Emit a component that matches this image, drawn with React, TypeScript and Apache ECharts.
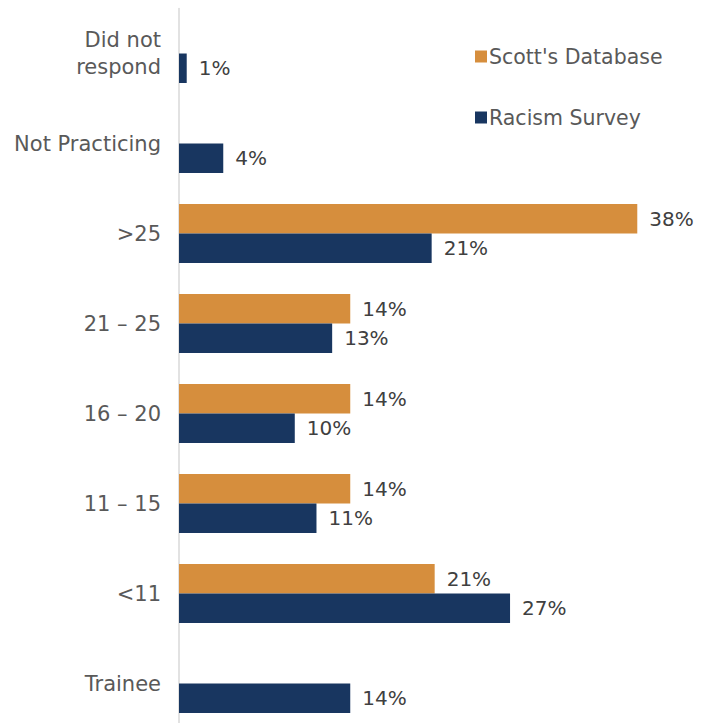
import React, { useEffect, useRef } from "react";
import * as echarts from "echarts";

const categories = ["Did not\nrespond", "Not Practicing", ">25", "21 – 25", "16 – 20", "11 – 15", "<11", "Trainee"];
const scottsDatabase = [null, null, 38.0, 14.2, 14.2, 14.2, 21.2, null];
const racismSurvey = [0.64, 3.67, 20.95, 12.7, 9.6, 11.4, 27.45, 14.2];
const seriesNames = ["Scott's Database", "Racism Survey"];

const FONT = "DejaVu Sans";

export default function App() {
  const ref = useRef<HTMLDivElement>(null);
  useEffect(() => {
    if (!ref.current) return;
    const chart = echarts.init(ref.current, null, { renderer: "svg" });
    const label = {
      show: true,
      position: "right",
      distance: 12,
      color: "#404040",
      fontFamily: FONT,
      fontSize: 20,
      formatter: (p: any) => Math.round(p.value) + "%",
    };
    chart.setOption({
      animation: false,
      textStyle: { fontFamily: FONT },
      legend: {
        orient: "vertical",
        left: 470,
        top: 41,
        itemWidth: 12,
        itemHeight: 12,
        itemGap: 40,
        icon: "rect",
        textStyle: { fontFamily: FONT, fontSize: 20.5, color: "#595959", padding: [0, 0, 0, -3] },
        data: seriesNames,
      },
      grid: { left: 179, top: 8.5, width: 482.4, height: 720, containLabel: false },
      xAxis: {
        type: "value",
        min: 0,
        max: 40,
        show: false,
        splitLine: { show: false },
      },
      yAxis: {
        type: "category",
        inverse: true,
        data: categories,
        axisTick: { show: false },
        axisLine: { show: true, lineStyle: { color: "#d9d9d9", width: 1.5 } },
        axisLabel: {
          margin: 18,
          color: "#595959",
          fontFamily: FONT,
          fontSize: 21,
          lineHeight: 27,
          align: "right",
        },
      },
      series: [
        {
          name: seriesNames[0],
          type: "bar",
          data: scottsDatabase,
          barWidth: 29.5,
          barGap: "0%",
          barCategoryGap: "33%",
          itemStyle: { color: "#D68E3D" },
          label,
        },
        {
          name: seriesNames[1],
          type: "bar",
          data: racismSurvey,
          barWidth: 29.5,
          barGap: "0%",
          itemStyle: { color: "#183660" },
          label,
        },
      ],
    });
    return () => chart.dispose();
  }, []);
  return (
    <div style={{ position: "fixed", left: 0, top: 0, width: 702, height: 723, overflow: "hidden", background: "#fff" }}>
      <div ref={ref} style={{ width: 702, height: 740 }} />
    </div>
  );
}
